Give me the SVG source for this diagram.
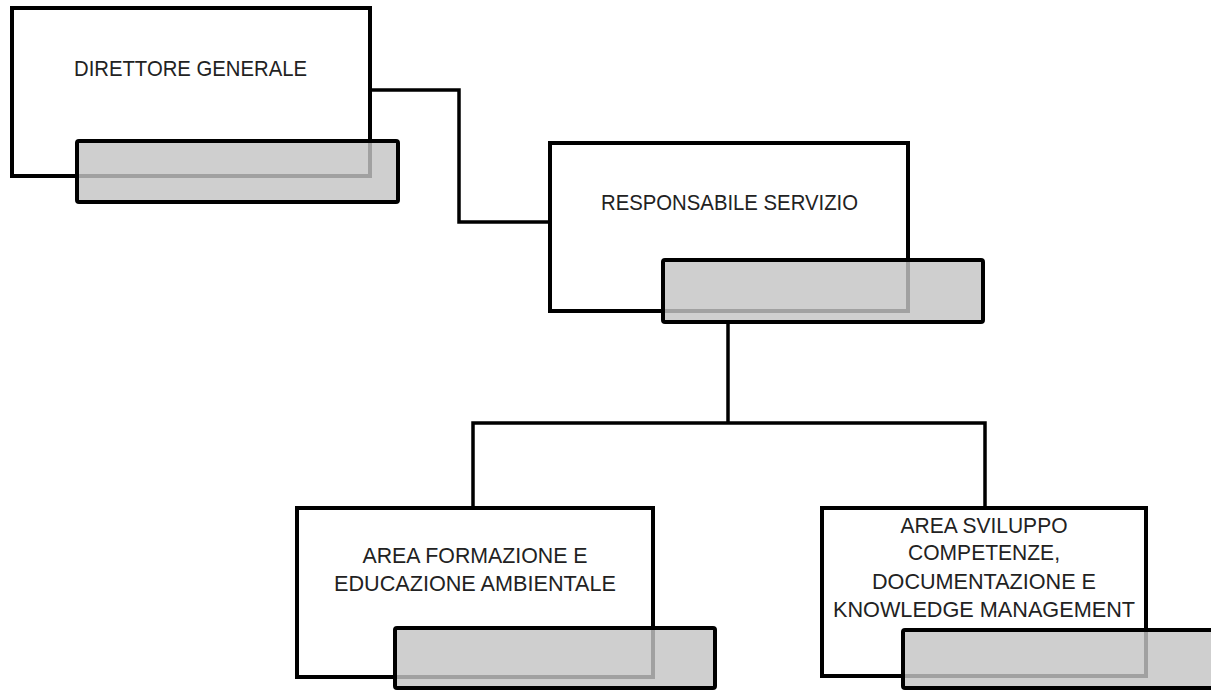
<svg xmlns="http://www.w3.org/2000/svg" width="1211" height="692" viewBox="0 0 1211 692">
<style>
.box{fill:#ffffff;stroke:#000;stroke-width:4}
.tab{fill:#c4c4c4;fill-opacity:0.82;stroke:#000;stroke-width:4}
.conn{fill:none;stroke:#000;stroke-width:3.5}
text{font-family:"Liberation Sans",Arial,sans-serif;font-size:22px;fill:#222222;text-anchor:middle}
</style>
<rect width="1211" height="692" fill="#ffffff"/>
<g id="connectors">
<polyline class="conn" points="370,90 459,90 459,222 550,222"/>
<line class="conn" x1="728" y1="322" x2="728" y2="423"/>
<polyline class="conn" points="473,508 473,423 985,423 985,508"/>
</g>
<g id="direttore-generale">
<rect class="box" x="12" y="8" width="358" height="168"/>
<rect class="tab" x="77" y="141" width="321" height="61" rx="2"/>
<text x="190.5" y="76" textLength="233" lengthAdjust="spacingAndGlyphs">DIRETTORE GENERALE</text>
</g>
<g id="responsabile-servizio">
<rect class="box" x="550" y="143" width="358" height="168"/>
<rect class="tab" x="663" y="260" width="320" height="62" rx="2"/>
<text x="729.5" y="210" textLength="257" lengthAdjust="spacingAndGlyphs">RESPONSABILE SERVIZIO</text>
</g>
<g id="area-formazione">
<rect class="box" x="297" y="508" width="356" height="169"/>
<rect class="tab" x="395" y="628" width="320" height="60" rx="2"/>
<text x="475" y="563" textLength="225" lengthAdjust="spacingAndGlyphs">AREA FORMAZIONE E</text>
<text x="475" y="591" textLength="282" lengthAdjust="spacingAndGlyphs">EDUCAZIONE AMBIENTALE</text>
</g>
<g id="area-sviluppo">
<rect class="box" x="822" y="508" width="324" height="168"/>
<rect class="tab" x="903" y="630" width="330" height="58" rx="2"/>
<text x="984" y="533" textLength="167" lengthAdjust="spacingAndGlyphs">AREA SVILUPPO</text>
<text x="984" y="560" textLength="152" lengthAdjust="spacingAndGlyphs">COMPETENZE,</text>
<text x="984" y="589" textLength="224" lengthAdjust="spacingAndGlyphs">DOCUMENTAZIONE E</text>
<text x="984" y="617" textLength="302" lengthAdjust="spacingAndGlyphs">KNOWLEDGE MANAGEMENT</text>
</g>
</svg>
